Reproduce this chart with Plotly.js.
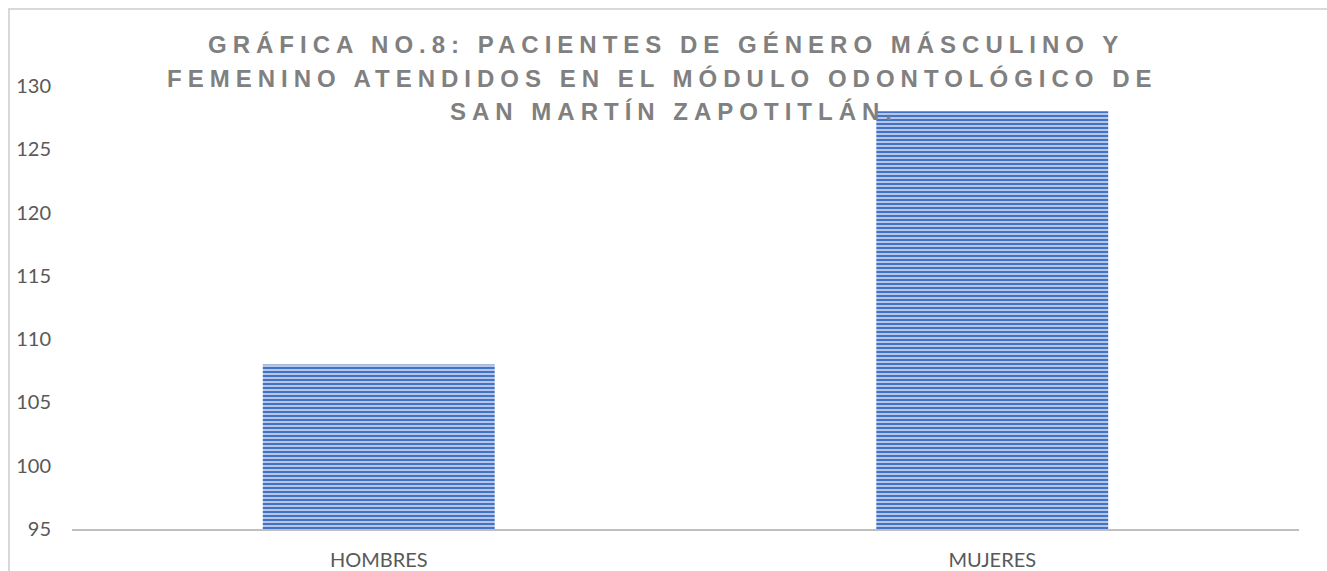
<!DOCTYPE html>
<html>
<head>
<meta charset="utf-8">
<script src="https://cdn.plot.ly/plotly-3.0.1.min.js"></script>
<style>
  html, body { margin:0; padding:0; background:#ffffff; overflow:hidden; }
  #frame { position:absolute; left:8px; top:8px; width:3000px; height:3000px;
           border-left:2px solid #d9d9d9; border-top:2px solid #d9d9d9; }
  #chart { position:absolute; left:0; top:0; width:1327px; height:571px; }
  .annotation-text { letter-spacing: 6px; font-weight: bold !important; }
</style>
</head>
<body>
<div id="frame"></div>
<div id="chart"></div>
<script>
const categories = ["HOMBRES", "MUJERES"];
const pacientes = [108, 128];
const titleLines = [
  "GRÁFICA NO.8: PACIENTES DE GÉNERO MÁSCULINO Y",
  "FEMENINO ATENDIDOS EN EL MÓDULO ODONTOLÓGICO DE",
  "SAN MARTÍN ZAPOTITLÁN."
];
const yTicks = [95, 100, 105, 110, 115, 120, 125, 130];

const titleX = [0.484, 0.481, 0.491];
const titleY = [1.093, 1.016, 0.942];

const data = [{
  type: "bar",
  x: categories,
  y: pacientes,
  marker: {
    color: "#4472c4",
    line: { width: 0 },
    pattern: { shape: "-", fgcolor: "#4472c4", bgcolor: "#c2d0ec", size: 4, solidity: 0.55 }
  },
  hoverinfo: "x+y"
}];

const layout = {
  width: 1327,
  height: 571,
  margin: { l: 72, r: 28, t: 86, b: 42 },
  paper_bgcolor: "rgba(0,0,0,0)",
  plot_bgcolor: "rgba(0,0,0,0)",
  bargap: 0.622,
  showlegend: false,
  font: { family: "Lato, 'Open Sans', sans-serif", color: "#595959", size: 20 },
  xaxis: {
    showline: true, linecolor: "#bfbfbf", linewidth: 2,
    showgrid: false, zeroline: false, ticks: "",
    ticklabelstandoff: 12,
    tickfont: { family: "Lato, sans-serif", size: 20, color: "#595959" }
  },
  yaxis: {
    range: [95, 130], tickvals: yTicks, ticktext: yTicks.map(String),
    showline: false, showgrid: false, zeroline: false, ticks: "",
    ticklabelstandoff: 20,
    tickfont: { family: "Lato, sans-serif", size: 20, color: "#595959" }
  },
  annotations: titleLines.map((t, i) => ({
    text: t, xref: "paper", yref: "paper",
    x: titleX[i], y: titleY[i], xanchor: "center", yanchor: "middle",
    showarrow: false,
    font: { family: "'Liberation Sans', Arial, sans-serif", size: 24, color: "#808080", weight: "bold" }
  }))
};

Plotly.newPlot("chart", data, layout, { displayModeBar: false, staticPlot: true });
</script>
</body>
</html>
